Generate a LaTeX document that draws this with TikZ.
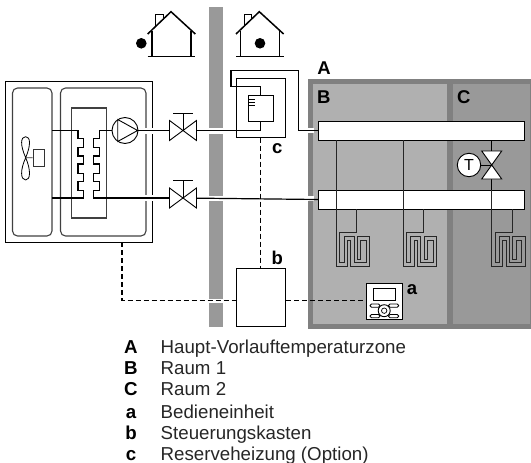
\documentclass[tikz,border=0pt]{standalone}
\usepackage{fontspec}
\setmainfont{Liberation Sans}
\begin{document}
\begin{tikzpicture}[x=1pt,y=-1pt,
  thinl/.style={draw=black,line width=0.9pt},
  frame/.style={draw=black!75,line width=1.1pt},
  pipe/.style={draw=black,line width=1.2pt},
  ctrl/.style={draw=black,line width=1.4pt,dash pattern=on 5pt off 3pt},
  halo/.style={draw=white,line width=6pt},
  whitebox/.style={draw=black,fill=white,line width=1pt,inner sep=0pt,rectangle},
  wallc/.style={fill=wallgrey,draw=none},
  lab/.style={font=\fontsize{18.5}{20}\selectfont\bfseries,inner sep=0pt},
  legkey/.style={font=\fontsize{18.7}{20}\selectfont\bfseries,inner sep=0pt,anchor=base},
  legtxt/.style={font=\fontsize{18.7}{20}\selectfont,inner sep=0pt,anchor=base west,text=black!85}]
\definecolor{wallgrey}{HTML}{999999}
\definecolor{zoneb}{HTML}{B0B0B0}
\definecolor{zonec}{HTML}{999999}
\definecolor{zoneedge}{HTML}{808080}
\useasboundingbox (0,0) rectangle (531,463);
% wall
\fill[wallc] (209,7) rectangle (222.7,128);
\fill[wallc] (209,133.5) rectangle (222.7,196);
\fill[wallc] (209,201) rectangle (222.7,298.6);
\fill[wallc] (209,302.7) rectangle (222.7,327);
% zones
\fill[zoneedge] (307.7,79.3) rectangle (531,329);
\fill[zoneb] (313,84.3) rectangle (447.3,324);
\fill[zonec] (452.7,84.3) rectangle (529.5,324);
% houses
\foreach \dx in {0,88.3}{
  \begin{scope}[xshift=\dx pt]
  \draw[line width=0.9pt] (155.7,26) -- (155.7,14) -- (163.3,14) -- (163.3,20);
  \draw[line width=1.2pt] (152,31) -- (152,56.7) (191,31) -- (191,56.7);
  \draw[line width=1.2pt] (147.7,56.7) -- (195.3,56.7);
  \draw[line width=1.5pt] (147.7,34) -- (171,11.7) -- (195.3,34);
  \end{scope}
}
\fill (141.3,43.3) circle (5.3);
\fill (260,43.3) circle (5.3);
% outdoor unit
\draw[thinl] (5.7,81) rectangle (152,242);
\draw[frame,rounded corners=5pt] (12.5,88) rectangle (52,236);
\draw[frame,rounded corners=5pt] (60.5,88) rectangle (146,236);
\draw[frame] (71.5,108) rectangle (106.5,218);
% fan
\coordinate (hub) at (25.7,157.7);
\draw[line width=0.8pt] (hub) .. controls (20,145) and (20.5,136.7) .. (25.7,136.7) .. controls (30.5,136.7) and (31,145) .. (hub)
  .. controls (20,170) and (20.5,180) .. (25.7,180) .. controls (30.5,180) and (31,170) .. (hub);
\node[draw=black!80,line width=0.9pt,inner sep=0pt,minimum width=11.3pt,minimum height=17.7pt] (motor) at (38.7,157.8) {};
\draw[line width=0.8pt,black!80] (hub) -- (motor.west);
% halos
\coordinate (vu) at (183,130.5);
\coordinate (vl) at (183,198);
\draw[halo] (145,130.5) -- (153.5,130.5);
\draw[halo] (145,198) -- (153.5,198);
% heat exchanger coils + pipes
\node[circle,draw=black,fill=white,line width=0.9pt,minimum size=26pt,inner sep=0pt] (pump) at (125,130.5) {};
\draw[line width=0.9pt] (117.7,119.5) -- (137.6,130.5) -- (117.7,141.5) -- cycle;
\draw[pipe] (52,130.5) -- (78,130.5) -- (78,138.7) -- (83.3,138.7) -- (83.3,147.3) -- (78,147.3) -- (78,156) -- (83.3,156) -- (83.3,164) -- (78,164) -- (78,173.3) -- (83.3,173.3) -- (83.3,181.3) -- (78,181.3) -- (78,190.7) -- (83.3,190.7) -- (83.3,198) -- (52,198);
\draw[pipe] (pump.west) -- (99.7,130.5) -- (99.7,138.7) -- (93.7,138.7) -- (93.7,147.3) -- (99.7,147.3) -- (99.7,156) -- (93.7,156) -- (93.7,164) -- (99.7,164) -- (99.7,173.3) -- (93.7,173.3) -- (93.7,181.3) -- (99.7,181.3) -- (99.7,190.7) -- (93.7,190.7) -- (93.7,198) -- (vl);
% zone-edge gaps for pipes
\draw[draw=white,line width=5pt] (306,130.5) -- (314,130.5);
\draw[draw=white,line width=5pt] (306,198.5) -- (314,198.5);
% collectors
\node[whitebox,minimum width=206pt,minimum height=19.3pt] (up) at (421.3,130.7) {};
\node[whitebox,minimum width=206pt,minimum height=19pt] (lo) at (421.3,199.5) {};
% valves
\draw[pipe] (pump.east) -- (vu);
\draw[pipe] (vu) -- (260.7,130.5);
\draw[pipe] (vl) -- (lo.west);
\foreach \v in {vu,vl}{
  \draw[fill=white,line width=0.9pt] ([shift={(-13.5,-10)}]\v) -- ([shift={(13.5,10)}]\v) -- ([shift={(13.5,-10)}]\v) -- ([shift={(-13.5,10)}]\v) -- cycle;
  \draw[line width=0.9pt] (\v) -- ([yshift=17.5pt]\v);
  \draw[line width=0.9pt] ([shift={(-9.7,-17.5)}]\v) -- ([shift={(9.7,-17.5)}]\v);
}
% backup heater
\node[whitebox,line width=0.9pt,minimum width=25.4pt,minimum height=26pt] (heater) at (261,108) {};
\draw[line width=0.6pt] (248.3,99.3) -- (255,99.3) (248.3,102) -- (255,102) (248.3,105) -- (255,105);
\draw[thinl] (236.3,137.7) -- (236.3,78.3) -- (285.7,78.3) -- (285.7,137.7) -- cycle;
\draw[pipe] (heater.south -| 260.7,0) -- (260.7,130.5);
\draw[pipe] (up.west) -- (298.3,130.7) -- (298.3,70.7) -- (231,70.7) -- (231,86.7) -- (260.7,86.7) -- (260.7,95);
% control box b, user interface a
\node[whitebox,minimum width=49.4pt,minimum height=58.4pt] (cb) at (261,297.5) {};
\coordinate (hd) at (260.7,137.7);
\coordinate (ou) at (122,242);
\coordinate (oc) at (122,300.5);
\draw[ctrl] (hd) -- (cb.north -| hd);
\draw[ctrl] (ou) -- (oc) -- (oc -| cb.west);
\node[draw=black,fill=white,line width=1.2pt,inner sep=0pt,minimum width=36pt,minimum height=35.6pt] (ui) at (384.7,301.5) {};
\draw[ctrl] (cb.east |- oc) -- (oc -| ui.west);
\draw[line width=0.9pt] (373.7,288.3) rectangle (395,300);
\foreach \yy in {304,314.5}{
  \draw[line width=0.8pt,rounded corners=1.5pt] (370,\yy) rectangle (380,\yy+3.2);
  \draw[line width=0.8pt,rounded corners=1.5pt] (388.5,\yy) rectangle (398.8,\yy+3.2);
}
\draw[fill=white,line width=0.9pt] (384.2,310.7) circle (6);
\draw[line width=0.7pt] (384.2,310.7) circle (2.7);
% floor heating: one line from the upper collector to the lower one
\foreach \px in {336.3,403,491.7}{
  \begin{scope}[xshift=\px pt]
  \draw[line width=1pt,black!85,line join=miter] (0,140.3) -- (0,266) -- (11,266) -- (11,240) -- (14.3,240) -- (14.3,266) -- (33.3,266) -- (33.3,236.7) -- (21,236.7) -- (21,259.3) -- (24.3,259.3) -- (24.3,240) -- (30,240) -- (30,262.7) -- (17.7,262.7) -- (17.7,236.7) -- (7.7,236.7) -- (7.7,262.7) -- (3.3,262.7) -- (3.3,232.7) -- (20.5,232.7) -- (20.5,209);
  \end{scope}
}
% zone valve and thermostat
\coordinate (zv) at (491.7,165);
\draw[line width=0.9pt] (491.7,140.3) -- (zv);
\draw[line width=0.9pt] (zv) -- (491.7,190);
\draw[fill=white,line width=0.9pt] (481.7,151) -- (501.7,151) -- (481.7,179) -- (501.7,179) -- cycle;
\node[circle,draw=black,fill=white,line width=0.9pt,minimum size=23.4pt,inner sep=0pt,font=\fontsize{16}{17}\selectfont] (th) at (469,165) {T};
\draw[line width=0.9pt] (th.east) -- (zv);
% labels
\node[lab] (la) at (324,68) {A};
\node[lab] (lb) at (323.7,96.7) {B};
\node[lab] (lc) at (463.7,96.7) {C};
\node[lab] (lsc) at (277.3,148.5) {c};
\node[lab] (lsb) at (277.3,258) {b};
\node[lab] (lsa) at (412,289.5) {a};
% legend
\foreach \k/\t/\yy in {A/Haupt-Vorlauftemperaturzone/353.6,B/Raum 1/374.3,C/Raum 2/395,a/Bedieneinheit/418,b/Steuerungskasten/439,c/Reserveheizung (Option)/460}{
  \node[legkey] at (131,\yy) {\k};
  \node[legtxt] at (160.5,\yy) {\t};
}
\end{tikzpicture}
\end{document}
